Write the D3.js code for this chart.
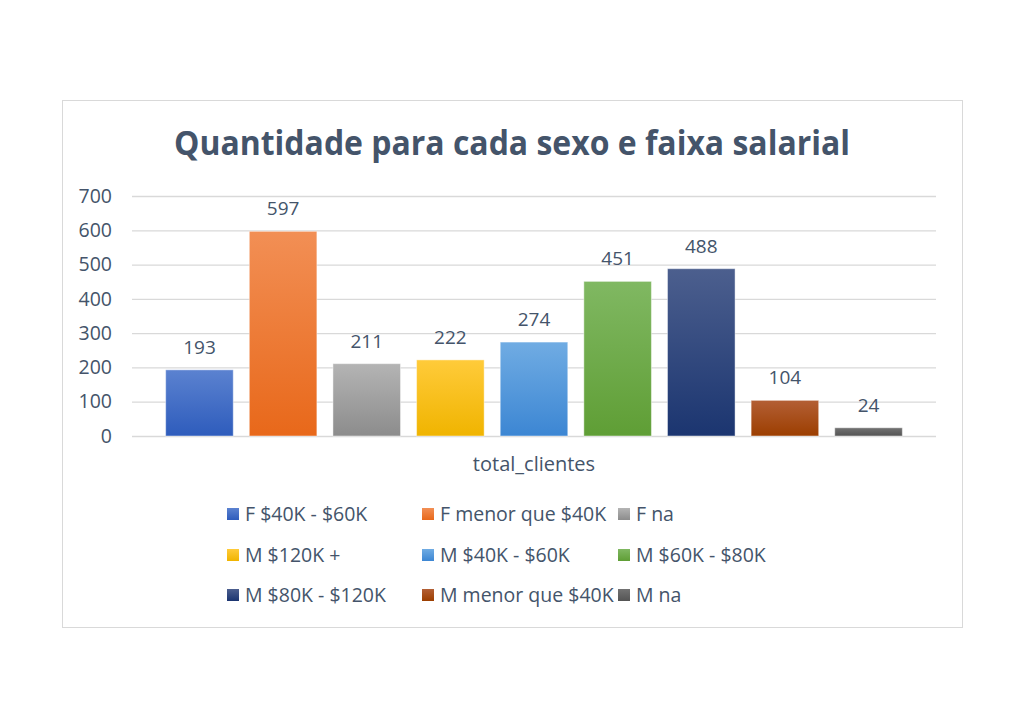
<!DOCTYPE html>
<html><head><meta charset="utf-8">
<script src="https://cdn.jsdelivr.net/npm/d3@7"></script>
<style>body{margin:0;background:#fff}svg{display:block}text{font-family:"Open Sans",sans-serif}</style>
</head><body><svg id="c" width="1024" height="726"></svg>
<script>
const series = ["F $40K - $60K","F menor que $40K","F na","M $120K +","M $40K - $60K","M $60K - $80K","M $80K - $120K","M menor que $40K","M na"];
const values = [193,597,211,222,274,451,488,104,24];
const colorsTop = ["#5b82d0","#f28f55","#b4b4b4","#ffcb3a","#70ace3","#80b862","#4c5f8e","#b35f35","#727272"];
const colorsBottom = ["#2e5cbc","#e8681a","#8c8c8c","#f0b400","#3c86d3","#5f9e35","#1b3570","#9c3e00","#545454"];
const yTicks = [0,100,200,300,400,500,600,700];
const category = "total_clientes";
const title = "Quantidade para cada sexo e faixa salarial";

(function(){
const svg = d3.select("#c");
const txt = "#44546a";
svg.append("rect").attr("x",62.5).attr("y",100.5).attr("width",900).attr("height",527)
  .attr("fill","#fff").attr("stroke","#d9d9d9").attr("stroke-width",1);

svg.append("text").attr("x",512).attr("y",155).attr("text-anchor","middle")
  .attr("font-size",34).attr("font-weight","bold").attr("fill",txt)
  .attr("textLength",676).attr("lengthAdjust","spacingAndGlyphs").text(title);

const pL=132,pR=936,pT=196,pB=436;
const y = d3.scaleLinear().domain([0,700]).range([pB,pT]);
const x0 = d3.scaleBand().domain([category]).range([pL,pR]).paddingInner(0).paddingOuter(0.0457);
const x1 = d3.scaleBand().domain(series).range([x0(category), x0(category)+x0.bandwidth()]).paddingInner(0.192).paddingOuter(0);

const yAxis = d3.axisLeft(y).tickValues(yTicks).tickSize(-(pR-pL)).tickPadding(20);
const ga = svg.append("g").attr("transform",`translate(${pL},0)`).call(yAxis);
ga.select(".domain").remove();
ga.selectAll(".tick line").attr("stroke","#d9d9d9").attr("stroke-width",1.3);
ga.selectAll(".tick text").attr("font-size",19.5).attr("fill",txt).attr("font-family","Open Sans");

const defs = svg.append("defs");
series.forEach((s,i)=>{
  const g = defs.append("linearGradient").attr("id","g"+i).attr("x1",0).attr("y1",0).attr("x2",0).attr("y2",1);
  g.append("stop").attr("offset","0%").attr("stop-color",colorsTop[i]);
  g.append("stop").attr("offset","100%").attr("stop-color",colorsBottom[i]);
});

const bars = svg.append("g");
bars.selectAll("rect").data(values).join("rect")
  .attr("x",(d,i)=>x1(series[i])).attr("width",x1.bandwidth())
  .attr("y",d=>y(d)).attr("height",d=>pB-y(d))
  .attr("fill",(d,i)=>`url(#g${i})`)
  .attr("stroke","#ffffff").attr("stroke-opacity",0.45).attr("stroke-width",1);
bars.selectAll("text").data(values).join("text")
  .attr("x",(d,i)=>x1(series[i])+x1.bandwidth()/2).attr("y",d=>y(d)-16)
  .attr("text-anchor","middle").attr("font-size",19).attr("fill",txt).text(d=>d);

svg.append("text").attr("x",x0(category)+x0.bandwidth()/2).attr("y",471).attr("text-anchor","middle")
  .attr("font-size",20).attr("fill",txt).text(category);

const colX=[227,422,618], rowY=[514,555,595];
const leg = svg.append("g");
series.forEach((s,i)=>{
  const cx=colX[i%3], cy=rowY[Math.floor(i/3)];
  leg.append("rect").attr("x",cx).attr("y",cy-6).attr("width",12).attr("height",12).attr("fill",`url(#g${i})`);
  leg.append("text").attr("x",cx+18).attr("y",cy+7).attr("font-size",19.5).attr("fill",txt).text(s);
});
})();
</script></body></html>
